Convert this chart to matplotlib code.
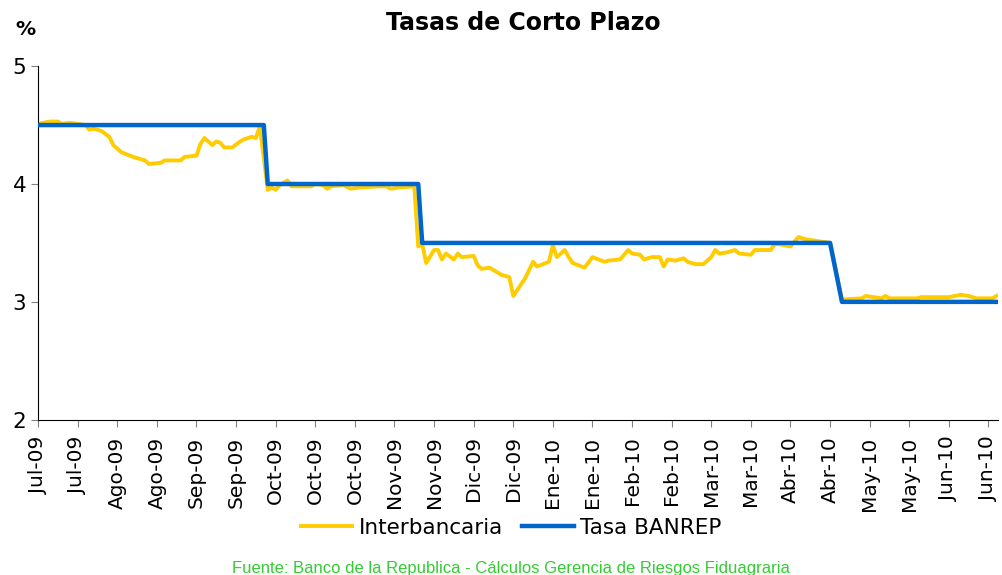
import numpy as np
import matplotlib
matplotlib.use("Agg")
import matplotlib.pyplot as plt

# dias habiles desde jul-09 (indice) y tasa interbancaria
inter_dia = [0, 3, 5, 6, 8, 10, 12, 13, 14, 16, 18, 19, 21, 24, 27, 28, 31, 32, 36, 37,
             40, 41, 42, 44, 45, 46, 47, 49, 51, 52, 54, 55, 56,
             58, 59, 60, 61, 63, 64, 69, 70, 72, 73, 74, 77, 79, 81, 86, 88, 89, 91, 95,
             96, 97, 98, 100, 101, 102, 103, 105, 106, 107, 110, 111, 112, 114, 116, 117,
             119, 120, 123, 125, 126, 129, 130, 131, 133, 134, 135, 138, 140, 143, 144,
             147, 149, 150, 152, 153, 155, 157, 158, 159, 161, 163, 164, 166, 168, 169,
             170, 171, 172, 174, 176, 177, 180, 181, 185, 186, 187, 190, 192, 194, 196,
             200, 203, 208, 209, 211, 213, 214, 215, 222, 223, 230, 233, 235, 237, 241, 242]
inter_val = [4.51, 4.53, 4.53, 4.51, 4.52, 4.51, 4.50, 4.46, 4.47, 4.45, 4.40, 4.33, 4.27,
             4.23, 4.20, 4.17, 4.18, 4.20, 4.20, 4.23,
             4.24, 4.34, 4.39, 4.33, 4.36, 4.35, 4.31, 4.31, 4.36, 4.38, 4.40, 4.39, 4.49,
             3.95, 3.97, 3.95, 3.99, 4.03, 3.98, 3.98, 4.00, 3.99, 3.96, 3.98, 3.99, 3.96,
             3.97, 3.98, 3.98, 3.96, 3.97, 3.98,
             3.47, 3.49, 3.33, 3.44, 3.44, 3.36, 3.41, 3.36, 3.41, 3.38, 3.39, 3.31, 3.28,
             3.29, 3.25, 3.23,
             3.21, 3.05, 3.20, 3.34, 3.30, 3.34, 3.48, 3.38, 3.44, 3.38, 3.33, 3.29, 3.38,
             3.34, 3.35,
             3.36, 3.44, 3.41, 3.40, 3.36, 3.38, 3.38, 3.30, 3.36, 3.35, 3.37, 3.34, 3.32,
             3.32, 3.35,
             3.38, 3.44, 3.41, 3.42, 3.44, 3.41, 3.40, 3.44, 3.44, 3.49, 3.49, 3.47, 3.55,
             3.53, 3.52,
             3.50, 3.02, 3.03, 3.05, 3.04, 3.03, 3.05, 3.03, 3.03, 3.04, 3.04, 3.06, 3.05,
             3.03, 3.03, 3.05]

# tasa de intervencion del banco de la republica
banrep_dia = [0, 57, 58, 96, 97, 200, 203, 242]
banrep_val = [4.5, 4.5, 4.0, 4.0, 3.5, 3.5, 3.0, 3.0]

tick_labels = ["Jul-09", "Jul-09", "Ago-09", "Ago-09", "Sep-09", "Sep-09", "Oct-09",
               "Oct-09", "Oct-09", "Nov-09", "Nov-09", "Dic-09", "Dic-09", "Ene-10",
               "Ene-10", "Feb-10", "Feb-10", "Mar-10", "Mar-10", "Abr-10", "Abr-10",
               "May-10", "May-10", "Jun-10", "Jun-10"]
tick_dias = [10 * i for i in range(len(tick_labels))]

fig = plt.figure(figsize=(10.02, 5.75), dpi=100)
ax = fig.add_axes([0.038, 0.27, 0.958, 0.615])

ax.plot(inter_dia, inter_val, color="#FFCC00", lw=2.8, label="Interbancaria", zorder=2)
ax.plot(banrep_dia, banrep_val, color="#0066CC", lw=3.2, label="Tasa BANREP", zorder=3)

ax.set_xlim(0, 242.4)
ax.set_ylim(2, 5)
ax.set_yticks([2, 3, 4, 5])
ax.set_xticks(tick_dias)
ax.set_xticklabels(tick_labels, rotation=90)
ax.tick_params(axis="both", labelsize=14.5, direction="out", length=5, color="#808080")
ax.tick_params(axis="y", labelsize=15.5)
ax.tick_params(axis="x", pad=7)
ax.spines["top"].set_visible(False)
ax.spines["right"].set_visible(False)

fig.text(0.522, 0.960, "Tasas de Corto Plazo", ha="center", va="center",
         fontsize=17, fontweight="bold")
fig.text(0.025, 0.948, "%", ha="center", va="center", fontsize=14.5, fontweight="bold")

fig.legend(loc="center", bbox_to_anchor=(0.51, 0.082), ncol=2, frameon=False,
           fontsize=15.5, handlelength=2.4, handletextpad=0.28, columnspacing=0.9)

fig.text(0.51, 0.012, "Fuente: Banco de la Republica - Cálculos Gerencia de Riesgos Fiduagraria",
         ha="center", va="center", fontsize=12, color="#33CC33",
         family="Liberation Sans")

fig.savefig("out.png", dpi=100)
